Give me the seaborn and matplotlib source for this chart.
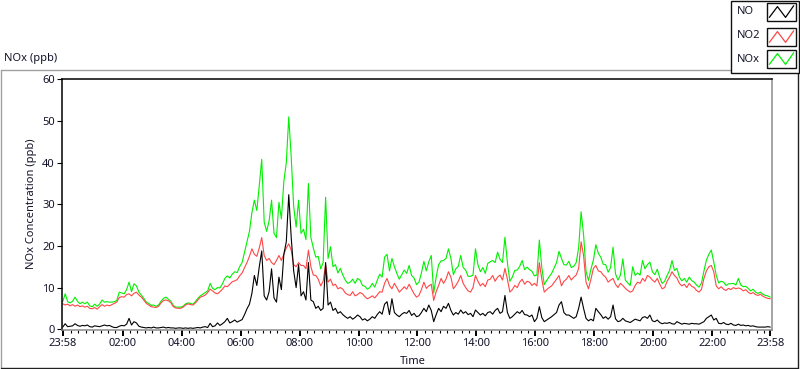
import numpy as np
import pandas as pd
import matplotlib
matplotlib.use("Agg")
import matplotlib.pyplot as plt
import seaborn as sns
from matplotlib.lines import Line2D
from matplotlib.patches import Rectangle

# ---------------- data (5-minute readings starting 23:58) ----------------
interval_min = 5

no = [
    0.5, 1.3, 0.6, 0.7, 0.8, 1.3, 0.9, 0.7, 0.9, 0.8, 1.0, 0.6,
    0.5, 0.8, 0.7, 0.6, 0.8, 1.0, 0.8, 0.9, 0.6, 0.4, 0.4, 0.7,
    0.9, 0.8, 1.2, 2.6, 1.0, 1.8, 1.5, 0.7, 0.5, 0.4, 0.3, 0.4,
    0.3, 0.5, 0.3, 0.3, 0.4, 0.5, 0.3, 0.4, 0.3, 0.3, 0.2, 0.3,
    0.3, 0.2, 0.3, 0.2, 0.3, 0.2, 0.3, 0.4, 0.3, 0.5, 0.6, 0.4,
    1.4, 0.6, 0.8, 1.5, 0.9, 1.3, 1.8, 2.6, 1.5, 1.8, 2.2, 1.7,
    2.0, 2.3, 3.5, 4.9, 6.0, 8.6, 12.9, 10.5, 15.0, 18.8, 8.0, 7.0,
    9.0, 14.5, 7.5, 6.5, 12.5, 9.5, 18.0, 21.0, 32.3, 22.0, 14.0, 10.0,
    15.5, 8.0, 9.0, 7.0, 16.0, 7.0, 6.6, 5.0, 5.5, 4.5, 5.0, 16.0,
    5.8, 6.5, 4.5, 5.0, 3.8, 4.2, 3.5, 3.0, 2.6, 3.0, 2.4, 2.8,
    3.4, 3.0, 2.2, 2.5, 2.0, 2.4, 3.0, 2.6, 3.5, 4.2, 3.6, 6.0,
    6.6, 3.5, 7.3, 4.0, 3.4, 3.0, 3.6, 4.0, 3.8, 4.5, 3.3, 3.8,
    3.0, 3.2, 4.0, 5.0, 4.2, 5.8, 4.5, 1.8, 3.5, 5.0, 4.2, 5.5,
    5.0, 6.2, 4.5, 3.4, 4.0, 3.6, 4.6, 3.8, 4.2, 3.5, 3.8, 3.0,
    4.6, 4.0, 3.4, 3.8, 3.2, 4.0, 4.2, 3.6, 4.5, 5.0, 3.8, 4.2,
    8.1, 4.0, 2.6, 3.0, 3.6, 4.2, 3.8, 4.5, 3.5, 3.4, 3.0, 3.4,
    1.8, 2.6, 5.4, 2.8, 1.8, 2.2, 2.6, 3.0, 3.5, 4.0, 5.8, 6.6,
    4.0, 3.4, 3.4, 3.0, 2.6, 3.0, 5.0, 7.7, 5.0, 2.6, 2.0, 2.4,
    2.0, 5.0, 4.2, 3.5, 2.6, 3.0, 2.4, 3.0, 5.8, 2.5, 1.8, 2.0,
    2.6, 2.0, 1.8, 1.6, 2.0, 2.4, 2.2, 2.0, 2.8, 3.0, 2.6, 3.4,
    2.0, 1.8, 2.2, 1.6, 1.3, 1.5, 1.4, 1.6, 1.3, 1.2, 1.8, 1.5,
    1.2, 1.4, 1.3, 1.2, 1.4, 1.3, 1.3, 1.2, 1.5, 1.8, 2.6, 3.0,
    3.4, 2.2, 2.6, 1.4, 1.3, 1.6, 1.2, 1.1, 1.4, 1.0, 0.9, 1.2,
    0.9, 1.0, 0.8, 0.9, 0.7, 0.8, 0.6, 0.5, 0.5, 0.5, 0.5, 0.6,
    0.5,
]

no2 = [
    6.1, 5.8, 6.0, 5.6, 5.9, 5.5, 5.8, 5.4, 5.6, 5.3, 5.5, 5.0,
    4.9, 5.2, 4.8, 5.4, 5.9, 5.5, 5.8, 5.6, 5.9, 6.2, 6.5, 7.6,
    7.8, 7.7, 8.3, 8.5, 8.0, 8.6, 8.9, 8.2, 7.7, 7.0, 6.2, 5.8,
    5.4, 5.3, 5.2, 5.5, 6.3, 6.9, 7.0, 6.8, 6.4, 5.4, 5.1, 5.0,
    5.0, 5.3, 5.8, 6.1, 5.9, 5.8, 6.3, 7.0, 7.7, 7.9, 8.2, 8.8,
    9.6, 9.2, 8.7, 8.5, 9.0, 9.6, 10.4, 10.2, 10.8, 11.4, 11.6, 11.9,
    12.8, 13.5, 14.8, 16.0, 17.5, 19.3, 18.0, 17.5, 19.5, 22.0, 17.7, 16.5,
    17.0, 16.0, 15.5, 16.5, 17.7, 16.5, 18.0, 19.5, 20.5, 19.0, 15.5, 15.0,
    16.0, 15.3, 15.3, 14.5, 19.0, 15.0, 13.0, 12.9, 12.0, 10.4, 11.5, 15.5,
    11.3, 12.0, 10.5, 10.8, 9.7, 10.0, 9.6, 8.7, 8.3, 8.1, 9.0, 8.0,
    8.3, 8.8, 8.5, 7.8, 7.3, 7.6, 8.0, 7.5, 8.2, 9.0, 8.9, 11.0,
    12.2, 10.5, 9.7, 11.0, 10.0, 8.9, 9.5, 10.2, 9.6, 10.8, 9.6, 8.5,
    7.7, 8.1, 9.5, 11.3, 9.8, 10.4, 10.8, 6.9, 9.0, 10.5, 12.2, 11.0,
    12.0, 13.8, 12.5, 9.7, 10.5, 11.5, 12.9, 11.0, 10.0, 9.2, 8.9, 10.0,
    12.9, 11.5, 10.4, 11.0, 10.2, 11.8, 12.0, 12.9, 11.5, 12.5, 13.0, 11.8,
    14.6, 12.0, 8.9, 9.5, 10.5, 10.0, 11.3, 12.0, 10.8, 11.5, 11.3, 10.5,
    11.0, 10.4, 16.0, 12.0, 8.9, 9.5, 10.0, 10.4, 11.2, 12.0, 12.9, 10.4,
    11.5, 12.0, 12.9, 11.8, 12.5, 13.0, 14.6, 21.0, 17.7, 11.3, 9.7, 12.0,
    14.6, 15.3, 14.0, 13.8, 13.0, 12.5, 11.3, 11.8, 12.2, 10.8, 10.0, 11.0,
    10.5, 9.8, 9.3, 8.9, 9.2, 10.5, 11.3, 11.0, 12.2, 11.5, 12.9, 12.5,
    11.8, 11.3, 12.2, 10.8, 9.7, 10.0, 11.5, 12.5, 13.8, 12.9, 12.3, 11.0,
    10.4, 10.8, 10.0, 11.0, 10.3, 10.0, 9.3, 8.9, 9.6, 12.2, 14.0, 15.0,
    15.3, 13.8, 10.4, 9.7, 10.2, 9.6, 9.3, 9.8, 9.5, 10.0, 9.7, 9.9,
    9.7, 9.2, 9.5, 8.9, 8.5, 8.8, 8.3, 8.1, 8.4, 7.9, 7.6, 7.4,
    7.3,
]

nox = [
    6.6, 8.5, 6.6, 6.3, 6.7, 7.7, 6.7, 6.1, 6.5, 6.1, 6.5, 5.6,
    5.4, 6.0, 5.5, 6.0, 7.0, 6.5, 6.6, 6.5, 6.5, 6.6, 6.9, 8.9,
    8.7, 8.5, 9.5, 11.3, 9.0, 10.9, 10.4, 8.9, 8.2, 7.4, 6.5, 6.2,
    5.7, 5.8, 5.5, 5.8, 6.7, 7.4, 7.7, 7.2, 6.7, 5.7, 5.3, 5.3,
    5.3, 5.5, 6.1, 6.3, 6.2, 6.0, 6.6, 7.4, 8.0, 8.4, 8.8, 9.2,
    11.0, 9.8, 9.5, 10.0, 9.9, 10.9, 12.2, 12.8, 12.3, 13.2, 13.8, 13.6,
    15.0, 16.0, 18.5, 21.0, 23.5, 28.0, 31.0, 28.5, 34.5, 40.8, 25.7, 23.5,
    26.0, 31.0, 23.0, 22.0, 30.5, 26.5, 35.5, 40.0, 51.0, 41.3, 29.5, 24.5,
    31.0, 23.0, 24.0, 21.5, 35.0, 22.0, 19.5, 17.3, 17.5, 14.5, 16.0, 31.7,
    17.0, 19.8, 15.0, 15.5, 13.5, 14.6, 13.0, 11.8, 11.0, 11.3, 12.0, 11.0,
    12.2, 11.8, 10.5, 10.3, 9.6, 10.0, 11.0, 10.1, 11.7, 13.2, 12.5, 17.3,
    18.0, 14.0, 17.0, 15.0, 13.4, 12.0, 13.1, 14.2, 13.4, 15.3, 12.9, 12.3,
    10.7, 11.3, 13.5, 16.3, 14.0, 16.2, 17.7, 8.7, 12.5, 15.5, 16.4, 16.5,
    17.0, 19.3, 17.0, 13.1, 14.5, 15.1, 17.7, 14.8, 14.2, 12.7, 12.7, 13.0,
    19.3, 15.5, 13.8, 14.8, 13.4, 15.8, 16.2, 16.5, 16.0, 18.5, 16.8, 16.0,
    22.1, 16.0, 11.5, 12.5, 14.1, 14.2, 15.1, 16.5, 14.3, 14.9, 14.3, 13.9,
    12.8, 13.0, 21.4, 14.8, 10.7, 11.7, 12.6, 13.4, 14.7, 16.0, 18.7, 17.0,
    15.5, 15.4, 16.3, 14.8, 15.1, 16.0, 19.6, 28.2, 22.7, 13.9, 11.7, 14.4,
    16.6, 20.3, 18.2, 17.3, 15.6, 15.5, 13.7, 14.8, 19.7, 13.3, 11.8, 13.0,
    16.9, 11.8, 11.1, 10.5, 15.0, 12.9, 13.5, 13.0, 16.5, 14.5, 15.5, 16.1,
    13.8, 13.1, 14.4, 12.4, 11.0, 11.5, 12.9, 14.1, 16.5, 14.1, 14.6, 12.5,
    11.6, 12.2, 11.3, 12.5, 11.7, 11.3, 10.6, 10.1, 11.1, 14.0, 16.6, 18.0,
    19.0, 16.1, 12.9, 11.1, 11.5, 11.3, 10.5, 10.9, 10.9, 11.0, 10.6, 12.2,
    10.6, 10.2, 10.3, 9.8, 9.2, 9.6, 8.9, 8.6, 8.9, 8.4, 8.1, 8.0,
    7.7,
]

series_names = ["NO", "NO2", "NOx"]
series_colors = {"NO": "#000000", "NO2": "#ff4646", "NOx": "#00f000"}
x_tick_minutes = [0, 122, 242, 362, 482, 602, 722, 842, 962, 1082, 1202, 1322, 1440]
x_tick_labels = ["23:58", "02:00", "04:00", "06:00", "08:00", "10:00", "12:00",
                 "14:00", "16:00", "18:00", "20:00", "22:00", "23:58"]
y_ticks = [0, 10, 20, 30, 40, 50, 60]

# ---------------- figure ----------------
W, H = 800, 369
sns.set_style("white")
plt.rcParams["font.family"] = ["Noto Sans", "DejaVu Sans"]
text_color = "#14142a"

fig = plt.figure(figsize=(W / 100, H / 100), dpi=100)
fig.patch.set_facecolor("white")

# background overlay in pixel coordinates
bg = fig.add_axes([0, 0, 1, 1], zorder=0)
bg.set_xlim(0, W)
bg.set_ylim(H, 0)
bg.axis("off")

# outer panel frame (sunken look)
bg.add_line(Line2D([0.5, 730], [69.5, 69.5], color="#a0a0a0", lw=1.0))
bg.add_line(Line2D([0.5, 0.5], [69.5, 367.5], color="#a0a0a0", lw=1.0))
bg.add_line(Line2D([0.5, 797.5], [367.5, 367.5], color="#202020", lw=1.0))
bg.add_line(Line2D([797.5, 797.5], [70, 367.5], color="#202020", lw=1.0))

bg.text(4, 59, "NOx (ppb)", fontsize=8, color=text_color, ha="left", va="center")
bg.text(413, 362, "Time", fontsize=8, color=text_color, ha="center", va="center")
bg.text(32, 204, "NOx Concentration (ppb)", fontsize=8, color=text_color,
        ha="center", va="center", rotation=90)

# main plot
L, R, T, B = 62, 772, 79, 330
ax = fig.add_axes([L / W, 1 - B / H, (R - L) / W, (B - T) / H], zorder=1)
ax.set_facecolor("white")

t = np.arange(len(no)) * interval_min
df = pd.DataFrame({
    "minutes": np.concatenate([t, t, t]),
    "ppb": np.concatenate([nox, no2, no]),
    "series": ["NOx"] * len(t) + ["NO2"] * len(t) + ["NO"] * len(t),
})
sns.lineplot(data=df, x="minutes", y="ppb", hue="series",
             hue_order=["NOx", "NO2", "NO"], palette=series_colors,
             linewidth=0.8, estimator=None, sort=False, legend=False, ax=ax)

ax.set_xlim(-1.5, 1443.5)
ax.set_ylim(-0.2, 60.1)
ax.set_xlabel("")
ax.set_ylabel("")
ax.set_xticks(x_tick_minutes)
ax.set_xticklabels(x_tick_labels)
ax.set_xticks(np.arange(17, 1440, 15), minor=True)
ax.set_yticks(y_ticks)
ax.set_yticklabels([str(v) for v in y_ticks])
ax.tick_params(axis="x", which="major", direction="out", length=4.5, width=1.4,
               pad=1.5, labelsize=8, labelcolor=text_color, color="#000000", bottom=True)
ax.tick_params(axis="x", which="minor", direction="out", length=2.5, width=0.8,
               color="#000000", bottom=True)
ax.tick_params(axis="y", which="major", direction="out", length=3.6, width=0.8,
               pad=1.5, labelsize=8, labelcolor=text_color, color="#000000", left=True)
for side in ["top", "left"]:
    ax.spines[side].set_color("#000000")
    ax.spines[side].set_linewidth(1.1)
for side in ["bottom", "right"]:
    ax.spines[side].set_color("#8c8c8c")
    ax.spines[side].set_linewidth(1.1)
for s in ax.spines.values():
    s.set_visible(True)

# legend box (top right)
lg = fig.add_axes([0, 0, 1, 1], zorder=3)
lg.set_xlim(0, W)
lg.set_ylim(H, 0)
lg.axis("off")
lg.add_patch(Rectangle((730.5, 0.5), 68, 72, facecolor="white",
                       edgecolor="#101010", lw=1.0))
legend_rows = [(12, 12), (36, 37), (59, 59)]
zig_x = [0.08, 0.36, 0.64, 0.92]
zig_y = [0.8, 0.2, 0.8, 0.15]
for name, (ty, by) in zip(series_names, legend_rows):
    lg.text(737, ty, name, fontsize=8, color=text_color, ha="left", va="center")
    bx0, bx1 = 767, 796
    by0, by1 = by - 9, by + 9
    lg.add_patch(Rectangle((bx0, by0), bx1 - bx0, by1 - by0, facecolor="white",
                           edgecolor="#101010", lw=1.0))
    lg.add_line(Line2D([bx0 + zx * (bx1 - bx0) for zx in zig_x],
                       [by0 + zy * (by1 - by0) for zy in zig_y],
                       color=series_colors[name], lw=0.9))

fig.savefig("out.png", dpi=100, facecolor="white")
